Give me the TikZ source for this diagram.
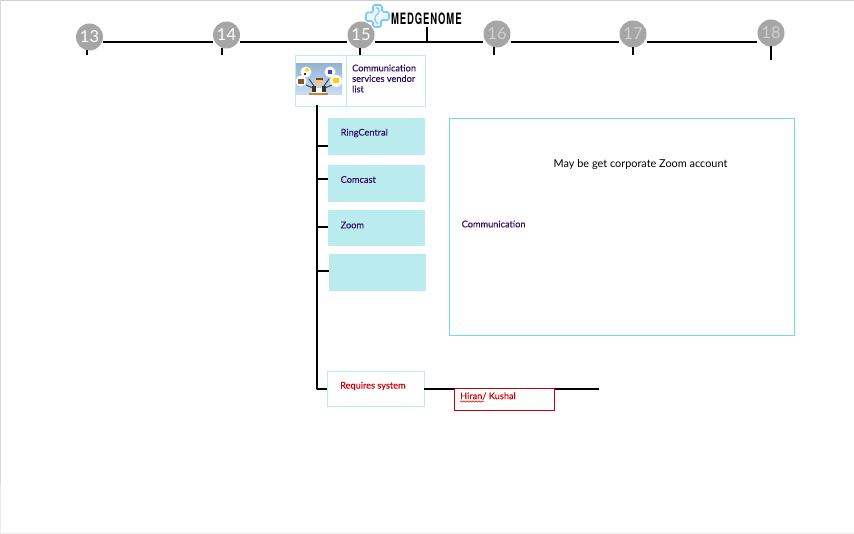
\documentclass[tikz,border=0pt]{standalone}
\usepackage{fontspec}
\setmainfont{Lato}
\newfontfamily\lblfont[FakeBold=0.25]{Lato}
\newfontfamily\logofont{TeX Gyre Heros}
\usetikzlibrary{decorations.pathmorphing}
\definecolor{tealfill}{HTML}{BAECEF}
\definecolor{tealline}{HTML}{B8ECEE}
\definecolor{bigline}{HTML}{6FE0EA}
\definecolor{purp}{HTML}{33105F}
\definecolor{redc}{HTML}{C8000A}
\definecolor{grayc}{HTML}{A6A6A6}
\definecolor{logob}{HTML}{7CCBEE}
\definecolor{imgblue}{HTML}{A6C8EC}
\tikzset{
  x=1pt,y=-1pt,
  datecirc/.style={circle,fill=grayc,minimum size=27pt,inner sep=0pt,font=\fontsize{16.5}{16.5}\selectfont,text=white},
  datefade/.style={datecirc,text=white!45!grayc},
  tl/.style={line width=2pt,black},
  vendor/.style={fill=tealfill,draw=none,anchor=north west,inner sep=0pt},
  lbl/.style={font=\lblfont\fontsize{9.2}{10}\selectfont,text=purp,align=left,anchor=west,inner sep=0pt},
}
\begin{document}
\begin{tikzpicture}
\useasboundingbox (0,0) rectangle (854,534);
\fill[white] (0,0) rectangle (854,534);
\draw[line width=1pt,black!18] (0,0.5) -- (854,0.5);
\draw[line width=1pt,black!15] (0.5,0) -- (0.5,484);
\draw[line width=1pt,black!8] (0.5,484) -- (0.5,534);
\draw[line width=1pt,black!8] (0,533.5) -- (854,533.5);
\coordinate (t13) at (87,55);
\coordinate (t14) at (222,55);
\coordinate (t15) at (360,55);
\coordinate (t16) at (494,55);
\coordinate (t17) at (633,55);
\coordinate (t18) at (771,60);
\coordinate (lg) at (427,27);
\coordinate (lgb) at (427,42);
\node[datecirc] (d13) at (89.5,37) {13};
\node[datecirc] (d14) at (226.5,35) {14};
\node[datecirc] (d15) at (361,35) {15};
\node[datefade] (d16) at (497,34) {16};
\node[datefade] (d17) at (633,34) {17};
\node[datefade] (d18) at (771,33) {18};
\draw[tl] (d13.east |- 0,42) -- (d14.west |- 0,42);
\draw[tl] (d14.east |- 0,42) -- (d15.west |- 0,42);
\draw[tl] (d15.east |- 0,42) -- (d16.west |- 0,42);
\draw[tl] (d16.east |- 0,42) -- (d17.west |- 0,42);
\draw[tl] (d17.east |- 0,42) -- (d18.west |- 0,42);
\draw[tl] (87,50.5) -- (t13);
\draw[tl] (222,48) -- (t14);
\draw[tl] (360,48.5) -- (t15);
\draw[tl] (494,47.5) -- (t16);
\draw[tl] (633,47.5) -- (t17);
\draw[tl] (771,46.5) -- (t18);
\draw[tl] (lg) -- (lgb);
% logo
\begin{scope}[logob,line width=1.6pt,line join=round,rounded corners=1.5pt]
\draw[fill=logob!15] (373,5) -- (382,5) -- (382,12) -- (389,12) -- (389,20) -- (381,20) -- (381,27) -- (373,27) -- (373,21) -- (366,21) -- (366,12.5) -- (373,12.5) -- cycle;
\draw[line width=1.1pt] (376,8) -- (379,8) -- (379,13) -- (375,16) -- (375,21) -- (378,24);
\end{scope}
\node[inner sep=0pt,anchor=west] (logo) at (391,18.7) {\logofont\bfseries\fontsize{14}{14}\selectfont\addfontfeature{LetterSpace=9}\scalebox{0.68}[1.12]{MEDGENOME}};
% image box + text box
\node[draw=tealline,line width=0.8pt,anchor=north west,minimum width=51pt,minimum height=51.5pt,inner sep=0pt,fill=white] (imgbox) at (295,55) {};
\node[draw=tealline,line width=0.8pt,anchor=north west,minimum width=79pt,minimum height=51pt,inner sep=0pt,fill=white] (txtbox) at (346,55) {};
\node[lbl,font=\lblfont\fontsize{9.2}{10.5}\selectfont] (txtlbl) at (352,78.5) {Communication\\services vendor\\list};
% illustration
\shade[top color=imgblue!90!black,bottom color=imgblue!60!white] (296,64) rectangle (342,95);
\fill[white] (306,72) circle (5.5);
\fill[white] (301,81) circle (5.5);
\fill[white] (330,72) circle (5.5);
\fill[white] (336,81) circle (6);
\fill[yellow!80!orange] (307,70) circle (2);
\fill[black!80] (304,73) rectangle (306,75);
\fill[brown!70!black] (298,79) rectangle (304,84);
\fill[blue!50!gray] (328,70) rectangle (332,74);
\fill[yellow!70!orange] (333,78) rectangle (339,83);
\fill[white] (312,88) rectangle (326,94);
\fill[black!80] (312,86) -- (316,86) -- (316,92) -- (312,92) -- cycle;
\fill[black!80] (326,86) -- (322,86) -- (322,92) -- (326,92) -- cycle;
\draw[black!75,line width=0.9pt] (314,86) -- (309,79) (324,86) -- (329,79) (313,88) -- (306,85) (325,88) -- (332,85);
\fill[orange!50!white] (319,82) circle (3.6);
\fill[brown!60!black] (315.5,78.5) rectangle (322.5,80.5);
\fill[brown!80!orange] (309,93.5) rectangle (328,95);
% vendor boxes
\node[vendor,minimum width=97pt,minimum height=37pt] (v1) at (328,118) {};
\node[vendor,minimum width=97pt,minimum height=37pt] (v2) at (328,165) {};
\node[vendor,minimum width=97pt,minimum height=36pt] (v3) at (328,210) {};
\node[vendor,minimum width=97pt,minimum height=37pt] (v4) at (329,254) {};
\node[lbl] (l1) at (340.5,133) {RingCentral};
\node[lbl] (l2) at (340.5,179.5) {Comcast};
\node[lbl] (l3) at (340.5,225) {Zoom};
% trunk
\coordinate (top) at (317,105);
\coordinate (bot) at (317,389);
\draw[tl,line join=round] (top) -- (bot) -- (327.5,389);
\draw[tl] (317,146) -- (v1.west |- 0,146);
\draw[tl] (317,179) -- (v2.west |- 0,179);
\draw[tl] (317,227) -- (v3.west |- 0,227);
\draw[tl] (317,271) -- (v4.west |- 0,271);
% big box
\node[draw=bigline,line width=0.8pt,anchor=north west,minimum width=344.5pt,minimum height=217.5pt,inner sep=0pt,xshift=0pt] (big) at (449,118) {};
\node[inner sep=0pt,font=\fontsize{10.9}{12}\selectfont,anchor=west] (zoomnote) at (553.5,164) {May be get corporate Zoom account};
\node[lbl] (comm) at (461.5,224) {Communication};
% requires
\coordinate (lineend) at (599,389);
\node[draw=tealline,line width=0.8pt,anchor=north west,minimum width=96.5pt,minimum height=35.5pt,inner sep=0pt,fill=white] (req) at (327,371) {};
\node[lbl,text=redc] (reqlbl) at (340,386) {Requires system};
\draw[tl] (req.east |- 0,389) -- (lineend);
\node[draw=redc,line width=0.9pt,anchor=north west,minimum width=100pt,minimum height=21.5pt,inner sep=0pt,fill=white] (hiran) at (454,388) {};
\node[lbl,text=redc] (hlbl) at (460,396) {Hiran/ Kushal};
\draw[redc,line width=0.5pt,decorate,decoration={snake,amplitude=0.7pt,segment length=3pt}] (460,401.5) -- (484,401.5);
\end{tikzpicture}
\end{document}
